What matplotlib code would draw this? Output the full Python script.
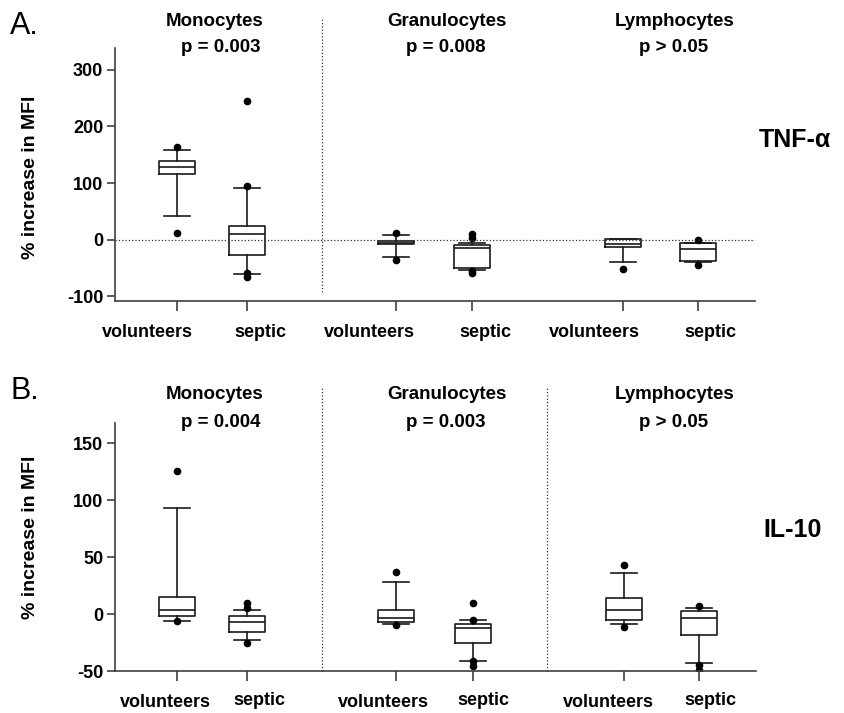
import matplotlib

matplotlib.use("Agg")
import matplotlib.pyplot as plt
import matplotlib.transforms as mtransforms

plt.rcParams["font.family"] = ["Liberation Sans", "DejaVu Sans"]

# ── data (% increase in MFI) ─────────────────────────────────────────────────
groups = ["Monocytes", "Granulocytes", "Lymphocytes"]
subjects = ["volunteers", "septic"]

tnf_pvalues = ["p = 0.003", "p = 0.008", "p > 0.05"]
tnf_whislo = [41, -60, -30, -54, -40, -40]
tnf_q1 = [116, -27, -8, -50, -13, -37]
tnf_med = [129, 10, -5, -15, -8, -16]
tnf_q3 = [139, 25, -2, -10, 2, -6]
tnf_whishi = [159, 91, 8, -5, 2, -5]
tnf_fliers = [[164, 12], [244, 94, -59, -66], [11, -36], [10, 3, -55, -59], [-51], [-1, -45]]

il10_pvalues = ["p = 0.004", "p = 0.003", "p > 0.05"]
il10_whislo = [-6, -23, -9, -41, -9, -43]
il10_q1 = [-2, -16, -7, -25, -5, -18]
il10_med = [4, -7, -3, -12, 4, -3]
il10_q3 = [15, -2, 4, -9, 14, 3]
il10_whishi = [93, 4, 28, -5, 36, 5]
il10_fliers = [[126, -6], [10, 5, -25], [37, -10], [10, -5, -41, -46], [43, -11], [7, -45, -49]]

# ── layout (pixel based, figure 845 x 713 at 100 dpi) ────────────────────────
W, H = 845, 713
POS = [62, 132, 281, 357, 508, 583]
LABEL_SHIFT_A = [-30, 13, -27, 13, -29, 12]
LABEL_SHIFT_B = [-12, 12, -13, 11, -15, 11]
LINE = "#1a1a1a"
SPINE = "#404040"


def px_axes(left, top, right, bottom):
    return [left / W, 1 - bottom / H, (right - left) / W, (bottom - top) / H]


def make_stats(lo, q1, med, q3, hi, fl):
    return [
        {"whislo": a, "q1": b, "med": c, "q3": d, "whishi": e, "fliers": f}
        for a, b, c, d, e, f in zip(lo, q1, med, q3, hi, fl)
    ]


def draw_panel(ax, stats, ylim, yticks, shifts, label_dy, seps, ylab_y):
    ax.bxp(
        stats,
        positions=POS,
        widths=36,
        capwidths=26,
        showfliers=True,
        boxprops={"color": LINE, "linewidth": 1.2},
        medianprops={"color": LINE, "linewidth": 1.2},
        whiskerprops={"color": LINE, "linewidth": 1.2},
        capprops={"color": LINE, "linewidth": 1.2},
        flierprops={
            "marker": "o",
            "markerfacecolor": "black",
            "markeredgecolor": "black",
            "markersize": 4.5,
        },
    )
    ax.set_xlim(0, 640)
    ax.set_ylim(*ylim)
    ax.set_yticks(yticks)
    ax.set_yticklabels([str(t) for t in yticks], fontsize=13, fontweight="bold")
    ax.set_xticks(POS)
    ax.set_xticklabels([])
    for side in ("top", "right"):
        ax.spines[side].set_visible(False)
    for side in ("left", "bottom"):
        ax.spines[side].set_color(SPINE)
        ax.spines[side].set_linewidth(1.2)
    ax.tick_params(axis="x", length=7, width=1.2, color=SPINE)
    ax.tick_params(axis="y", length=5.5, width=1.2, color=SPINE, pad=3)
    ax.set_ylabel("% increase in MFI", fontsize=14, fontweight="bold")
    ax.yaxis.set_label_coords(-0.118, ylab_y)

    for i, x in enumerate(POS):
        ax.annotate(
            subjects[i % 2],
            xy=(x + shifts[i], 0),
            xycoords=("data", "axes fraction"),
            xytext=(0, -label_dy[i % 2]),
            textcoords="offset points",
            ha="center",
            va="center",
            fontsize=13,
            fontweight="bold",
        )

    trans = mtransforms.blended_transform_factory(ax.transData, ax.transAxes)
    for x, y0, y1 in seps:
        ax.plot([x, x], [y0, y1], transform=trans, ls=":", lw=0.9, color="#333333",
                clip_on=False)


def fig_text(x, y, s, **kw):
    fig.text(x / W, 1 - y / H, s, ha="center", va="center", **kw)


fig = plt.figure(figsize=(W / 100, H / 100), dpi=100)

# Panel A: TNF-alpha
ax_a = fig.add_axes(px_axes(115, 48, 755, 301))
draw_panel(
    ax_a,
    make_stats(tnf_whislo, tnf_q1, tnf_med, tnf_q3, tnf_whishi, tnf_fliers),
    (-108, 338),
    [-100, 0, 100, 200, 300],
    LABEL_SHIFT_A,
    (23, 23),
    [(207, 0.036, 1.123)],
    0.49,
)
ax_a.axhline(0, ls=":", lw=0.9, color="#333333")

# Panel B: IL-10
ax_b = fig.add_axes(px_axes(115, 423, 756, 671))
draw_panel(
    ax_b,
    make_stats(il10_whislo, il10_q1, il10_med, il10_q3, il10_whishi, il10_fliers),
    (-50, 168),
    [-50, 0, 50, 100, 150],
    LABEL_SHIFT_B,
    (23, 21),
    [(207, 0.0, 1.141), (431, 0.0, 1.141)],
    0.54,
)

# group headers
title_x = [215, 447, 675]
p_x = [221, 446, 674]
for g, tx, px_, pa, pb in zip(groups, title_x, p_x, tnf_pvalues, il10_pvalues):
    fig_text(tx, 22, g, fontsize=13.5, fontweight="bold")
    fig_text(px_, 48, pa, fontsize=13.5, fontweight="bold")
    fig_text(tx, 395, g, fontsize=13.5, fontweight="bold")
    fig_text(px_, 423, pb, fontsize=13.5, fontweight="bold")

fig_text(24, 26, "A.", fontsize=22)
fig_text(25, 391, "B.", fontsize=22)
fig_text(795, 140, "TNF-α", fontsize=18, fontweight="bold")
fig_text(793, 530, "IL-10", fontsize=18, fontweight="bold")

fig.savefig("out.png", dpi=100, facecolor="white")
